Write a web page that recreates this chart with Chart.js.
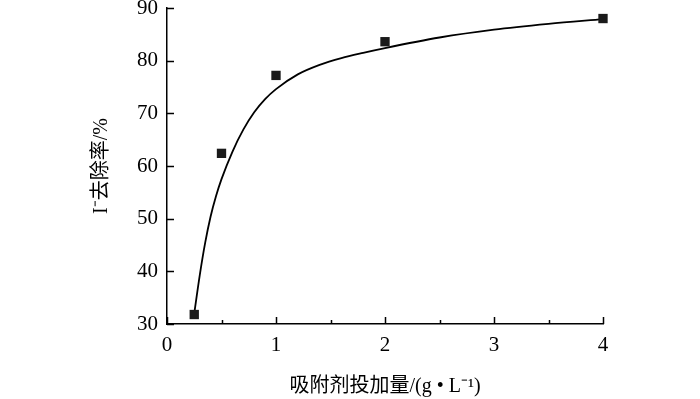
<!DOCTYPE html>
<html>
<head>
<meta charset="utf-8">
<script src="https://cdn.jsdelivr.net/npm/chart.js@4/dist/chart.umd.min.js"></script>
<style>
  html, body { margin: 0; padding: 0; background: #fff; }
  #wrap { width: 700px; height: 399px; position: relative; }
</style>
</head>
<body>
<div id="wrap"><canvas id="chart"></canvas></div>
<script>
// measured points
const doseX = [0.25, 0.5, 1, 2, 4];
const removalY = [31.8, 62.4, 77.2, 83.6, 88.0];

// fitted curve
const curveX = [0.25, 0.3, 0.35, 0.4, 0.45, 0.5, 0.6, 0.7, 0.8, 0.9, 1.0, 1.2, 1.4, 1.6, 1.8, 2.0, 2.5, 3.0, 3.5, 4.0];
const curveY = [32.0, 39.2, 45.4, 50.4, 54.3, 57.5, 62.7, 66.9, 70.2, 72.7, 74.6, 77.4, 79.2, 80.5, 81.5, 82.4, 84.4, 85.9, 87.0, 87.9];

const xTitle = "吸附剂投加量/(g • L⁻¹)";
const yTitle = "I⁻去除率/%";

const serif = "'Liberation Serif', 'Noto Sans CJK SC', serif";

// ticks drawn inward, minor ones shorter
const inwardTicks = {
  id: "inwardTicks",
  afterDraw(chart) {
    const { ctx, scales } = chart;
    const xs = scales.x;
    const ys = scales.y;
    ctx.save();
    ctx.strokeStyle = "#000";
    ctx.lineWidth = 1.5;
    ctx.beginPath();
    xs.ticks.forEach((t) => {
      const px = Math.round(xs.getPixelForValue(t.value)) + 0.5;
      const len = Number.isInteger(t.value) ? 7 : 4;
      ctx.moveTo(px, ys.bottom);
      ctx.lineTo(px, ys.bottom - len);
    });
    ys.ticks.forEach((t) => {
      const py = Math.round(ys.getPixelForValue(t.value)) + 0.5;
      ctx.moveTo(xs.left, py);
      ctx.lineTo(xs.left + 7, py);
    });
    ctx.stroke();
    ctx.restore();
  },
};

const chart = new Chart(document.getElementById("chart"), {
  type: "scatter",
  data: {
    datasets: [
      {
        label: "points",
        data: doseX.map((x, i) => ({ x, y: removalY[i] })),
        pointStyle: "rect",
        pointRadius: 6.6,
        pointBackgroundColor: "#1a1a1a",
        pointBorderWidth: 0,
        clip: false,
        order: 0,
      },
      {
        label: "fit",
        data: curveX.map((x, i) => ({ x, y: curveY[i] })),
        showLine: true,
        borderColor: "#000",
        borderWidth: 1.8,
        pointRadius: 0,
        cubicInterpolationMode: "monotone",
        clip: false,
        order: 1,
      },
    ],
  },
  options: {
    responsive: true,
    maintainAspectRatio: false,
    animation: false,
    layout: { padding: { left: 0, top: 8, right: 97, bottom: 0 } },
    plugins: {
      legend: { display: false },
      tooltip: { enabled: false },
    },
    scales: {
      x: {
        type: "linear",
        min: 0,
        max: 4,
        afterFit(scale) {
          scale.height = 75;
          scale.paddingLeft = 0;
          scale.paddingRight = 0;
        },
        border: { display: true, color: "#000", width: 1.5 },
        grid: { drawOnChartArea: false, drawTicks: false },
        ticks: {
          stepSize: 0.5,
          autoSkip: false,
          maxRotation: 0,
          padding: 9,
          color: "#000",
          font: { family: serif, size: 21 },
          callback: (v) => (Number.isInteger(v) ? String(v) : ""),
        },
        title: {
          display: true,
          text: xTitle,
          color: "#000",
          font: { family: serif, size: 20 },
          padding: { top: 0, bottom: 0 },
        },
      },
      y: {
        type: "linear",
        min: 30,
        max: 90,
        afterFit(scale) {
          scale.width = 167;
          scale.paddingTop = 0;
          scale.paddingBottom = 0;
        },
        border: { display: true, color: "#000", width: 1.5 },
        grid: { drawOnChartArea: false, drawTicks: false },
        ticks: {
          stepSize: 10,
          padding: 9,
          color: "#000",
          font: { family: serif, size: 21 },
        },
        title: {
          display: true,
          text: yTitle,
          color: "#000",
          font: { family: serif, size: 20 },
          padding: { top: 90, bottom: 0 },
        },
      },
    },
  },
  plugins: [inwardTicks],
});
</script>
</body>
</html>
